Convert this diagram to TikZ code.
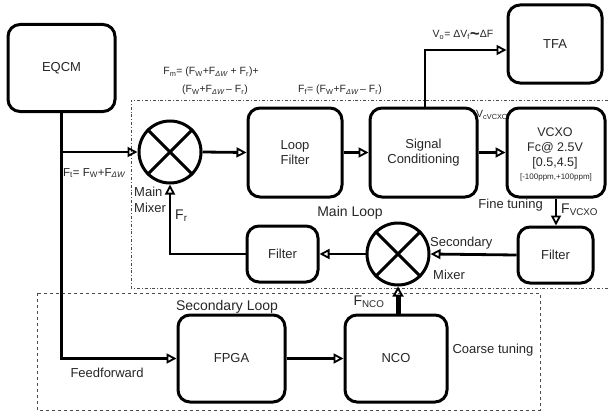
\documentclass[tikz,border=0pt]{standalone}
\usepackage{fontspec}
\setmainfont{Liberation Sans}
\usetikzlibrary{arrows.meta}
\newcommand{\sbs}[1]{\textsubscript{#1}}
\begin{document}
\begin{tikzpicture}[x=1pt,y=-1pt,
  txt/.style={text=black!85,inner sep=0pt,font=\fontsize{12.5}{14}\selectfont},
  blk/.style={draw,line width=3pt,rounded corners=12pt,align=center,inner sep=0pt,text=black!85,font=\fontsize{13}{15.5}\selectfont},
  mix/.style={draw,circle,line width=3pt,minimum size=62pt,inner sep=0pt},
  conn/.style={line width=2.8pt},
  arr/.style={conn,-{Triangle[open,length=10pt,width=10pt,line width=1.8pt]}},
  lbl/.style={txt,font=\fontsize{10.5}{12}\selectfont},
  sml/.style={txt,font=\fontsize{13}{14}\selectfont},
  big/.style={txt,font=\fontsize{14}{16}\selectfont}]
\useasboundingbox (0,0) rectangle (609,412);
% loop regions
\draw[line width=0.8pt,dash dot,black!70] (608,100) -- (131,100) -- (131,288) -- (608,288);
\draw[line width=0.8pt,dashed,black!70] (37,293) rectangle (540,410);
% blocks
\node[blk,minimum width=107pt,minimum height=87pt] (eqcm) at (61.5,68) {EQCM};
\node[blk,minimum width=94pt,minimum height=89pt] (lf) at (295,152.5) {Loop\\Filter};
\node[blk,minimum width=107pt,minimum height=89pt] (sc) at (423.5,152.5) {Signal\\Conditioning};
\node[blk,minimum width=98pt,minimum height=89pt] (vcxo) at (556,152.5) {};
\node[blk,minimum width=94pt,minimum height=78pt] (tfa) at (555,44) {TFA};
\node[blk,minimum width=71pt,minimum height=56pt] (f1) at (282.5,254) {Filter};
\node[blk,minimum width=75pt,minimum height=56pt] (f2) at (555.5,255) {Filter};
\node[blk,minimum width=107pt,minimum height=87pt] (fpga) at (231.5,358.5) {FPGA};
\node[blk,minimum width=102pt,minimum height=87pt] (nco) at (396,358.5) {NCO};
\node[txt] (v1) at (555,132) {VCXO};
\node[txt] (v2) at (555,147.5) {Fc@ 2.5V};
\node[txt] (v3) at (555,163) {[0.5,4.5]};
\node[txt,font=\fontsize{8}{9}\selectfont] (v4) at (556,177) {[-100ppm,+100ppm]};
% mixers
\node[mix] (m1) at (170,152) {};
\draw[line width=3pt] (m1.45) -- (m1.225) (m1.135) -- (m1.-45);
\node[mix] (m2) at (398,254) {};
\draw[line width=3pt] (m2.45) -- (m2.225) (m2.135) -- (m2.-45);
% connectors
\coordinate (br) at (eqcm.south |- m1.west);
\coordinate (ff) at (eqcm.south |- fpga.west);
\draw[arr] (eqcm.south) -- (ff) -- (fpga.west);
\draw[arr] (br) -- (m1.west);
\draw[arr] (m1.east) -- (lf.west);
\draw[arr] (lf.east) -- (sc.west);
\draw[arr] (sc.east) -- (vcxo.west);
\coordinate (up) at (425,50);
\draw[arr] (sc.north -| up) -- (up) -- (tfa.west |- up);
\draw[arr] (vcxo.south) -- (vcxo.south |- f2.north);
\draw[arr] (f2.west) -- (m2.east);
\draw[arr] (m2.west) -- (f1.east);
\coordinate (fr) at (m1.south |- f1.west);
\draw[arr] (f1.west) -- (fr) -- (m1.south);
\draw[arr] (fpga.east) -- (nco.west);
\draw[line width=5pt,-{Triangle[open,length=10pt,width=11pt,line width=1.8pt]}] (nco.north -| m2.south) -- (m2.south);
% labels
\node[lbl] (fm1) at (211,72) {F\sbs{m}= (F\sbs{W}+F\sbs{\itshape ΔW} + F\sbs{r})+};
\node[lbl] (fm2) at (215,90) {(F\sbs{W}+F\sbs{\itshape ΔW}\,– F\sbs{r})};
\node[lbl] (ff1) at (340,90) {F\sbs{f}= (F\sbs{W}+F\sbs{\itshape ΔW}\,– F\sbs{r})};
\node[lbl] (vo) at (463,35) {V\sbs{o}= ΔV\sbs{f}{\fontsize{17}{17}\selectfont\bfseries\raisebox{-2pt}{\char"7E}}ΔF};
\node[lbl,anchor=west] (vc) at (476,115) {V\sbs{cVCXO}};
\node[lbl,anchor=west,font=\fontsize{11.5}{13}\selectfont] (ft) at (63,173) {F\sbs{t}= F\sbs{W}+F\sbs{\itshape ΔW}};
\node[sml,anchor=west] (mm1) at (134,192) {Main};
\node[sml,anchor=west] (mm2) at (134,208) {Mixer};
\node[big,anchor=west] (frl) at (175,216) {F\sbs{r}};
\node[big] (ml) at (350,213) {Main Loop};
\node[sml,anchor=west] (sm1) at (430,243) {Secondary};
\node[sml,anchor=west] (sm2) at (433,275) {Mixer};
\node[sml,anchor=east] (fine) at (543,205) {Fine tuning};
\node[big,anchor=west] (fv) at (561,210) {F\sbs{VCXO}};
\node[big] (fn) at (369,302) {F\sbs{NCO}};
\node[sml] (ct) at (493,350) {Coarse tuning};
\node[big] (sl) at (227,307) {Secondary Loop};
\node[sml] (fw) at (107,373) {Feedforward};
\end{tikzpicture}
\end{document}
